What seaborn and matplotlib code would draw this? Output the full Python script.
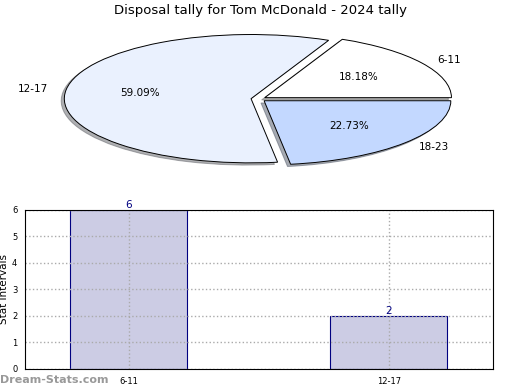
import matplotlib
matplotlib.use("Agg")
import pandas as pd
import matplotlib.pyplot as plt
import seaborn as sns

# data
pie_labels = ["6-11", "12-17", "18-23"]
pie_shares = [18.18, 59.09, 22.73]
pie_colors = ["#ffffff", "#eaf1fe", "#c3d8ff"]

bar_labels = ["6-11", "12-17"]
bar_counts = [6, 2]

sns.set_style("white")
plt.rcParams["font.family"] = ["DejaVu Sans"]
plt.rcParams["text.color"] = "black"
plt.rcParams["axes.labelcolor"] = "black"
plt.rcParams["xtick.color"] = "black"
plt.rcParams["ytick.color"] = "black"

fig = plt.figure(figsize=(5.2, 3.9), dpi=100)

### pie ###
ax_pie = fig.add_axes([0.102, 0.565, 0.79, 0.362])
ax_pie.pie(
    pie_shares,
    labels=pie_labels,
    colors=pie_colors,
    autopct="%1.2f%%",
    startangle=0,
    explode=[0.04, 0.04, 0.04],
    shadow={"ox": -0.012, "oy": -0.025, "shade": 0.6},
    wedgeprops={"edgecolor": "black", "linewidth": 0.7},
    textprops={"fontsize": 7.5},
)
ax_pie.set_aspect("auto")
ax_pie.set_xlim(-1.1, 1.1)
ax_pie.set_ylim(-1.1, 1.1)
fig.text(0.5, 0.972, "Disposal tally for Tom McDonald - 2024 tally",
         ha="center", va="center", fontsize=9.5)

### bars ###
ax_bar = fig.add_axes([0.048, 0.054, 0.9, 0.408])
df = pd.DataFrame({"interval": bar_labels, "count": bar_counts})
sns.barplot(data=df, x="interval", y="count", ax=ax_bar, width=0.45,
            color="#cccce4", edgecolor="#000080", linewidth=0.8, saturation=1)
for i, v in enumerate(bar_counts):
    ax_bar.text(i, v, str(v), ha="center", va="bottom", color="#000080", fontsize=7.5)
ax_bar.set_xlim(-0.4, 1.4)
ax_bar.set_ylim(0, 6)
ax_bar.set_yticks(range(0, 7))
ax_bar.tick_params(labelsize=6, length=2)
ax_bar.grid(True, linestyle=":", color="#aaaaaa", linewidth=1)
ax_bar.set_axisbelow(False)
for s in ax_bar.spines.values():
    s.set_color("black")
    s.set_linewidth(0.8)
    s.set_zorder(3)
ax_bar.set_ylabel("Stat Intervals", fontsize=7.5)
ax_bar.yaxis.set_label_coords(-0.034, 0.5)
ax_bar.set_xlabel("Frequency", fontsize=7.5, labelpad=4)

fig.text(0.0, 0.012, "Dream-Stats.com", color="#999999", fontsize=8,
         fontweight="bold", ha="left", va="bottom")

fig.savefig("out.png", dpi=100)
